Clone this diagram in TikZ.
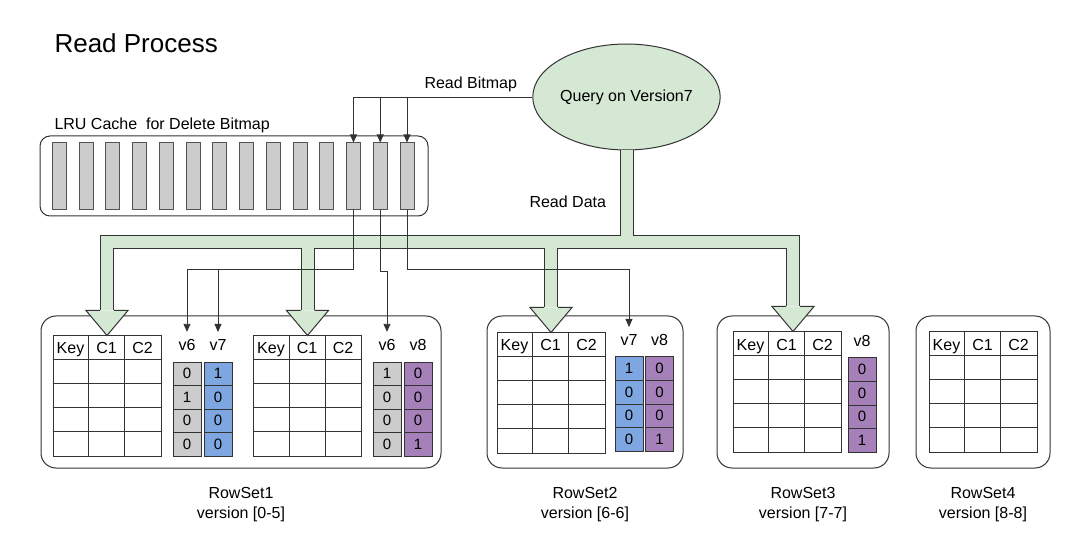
\documentclass[tikz,border=0pt]{standalone}
\usepackage{fontspec}
\setmainfont{Liberation Sans}
\usepackage{tikz}
\usetikzlibrary{arrows.meta, positioning, shapes.geometric, calc}
\usepackage{xcolor}
\definecolor{FlowGreen}{HTML}{D5E8D4}
\definecolor{BarGray}{HTML}{CCCCCC}
\definecolor{BitBlue}{HTML}{7EA6E0}
\definecolor{BitPurple}{HTML}{A680B8}
\definecolor{Ink}{HTML}{333333}

\begin{document}
\begin{tikzpicture}[>={Triangle[width=7pt,length=8pt]}, x=1pt, y=-1pt,
    font=\fontsize{16}{20}\selectfont,
    holder/.style={draw=Ink, line width=1pt, rounded corners=15pt},
    slot/.style={draw=Ink!85, fill=BarGray, line width=1pt,
                 minimum width=14pt, minimum height=67pt, inner sep=0pt},
    tablebox/.style={draw=Ink, line width=1pt, minimum width=108pt,
                     minimum height=120pt, inner sep=0pt},
    bitcell/.style={draw=Ink, line width=1pt, minimum width=28pt, minimum height=23.5pt,
                    inner sep=0pt, font=\fontsize{15}{18}\selectfont},
    link/.style={draw=Ink, line width=0.9pt, ->},
    flow/.style={draw=Ink, line width=1pt, double=FlowGreen, double distance=12pt},
    flowhead/.style={draw=Ink, fill=FlowGreen, line width=1pt, line join=miter}]
  \useasboundingbox (0,0) rectangle (1080,548);

  \node[anchor=base west, font=\fontsize{26}{30}\selectfont] (title) at (51,53) {Read Process};

  \foreach \r/\x/\w in {1/241/400pt, 2/585/196pt, 3/803/172pt, 4/983/134pt}
    \node[holder, minimum width=\w, minimum height=152pt] (rs\r) at (\x,392) {};
  \foreach \r/\v in {1/{0-5}, 2/{6-6}, 3/{7-7}, 4/{8-8}}
    \node[below=19pt of rs\r, align=center, inner sep=0pt] (rslabel\r) {RowSet\r\\version [\v]};

  \foreach \t/\x/\y in {A/107/396, B/307.5/396, C/551/393, D/787/392, E/983/392}{
    \node[tablebox] (tab\t) at (\x,\y) {};
    \foreach \k in {1,...,4}
      \draw[Ink, line width=1pt] ($(tab\t.north west)+(0,24*\k)$) -- ($(tab\t.north east)+(0,24*\k)$);
    \foreach \k in {1,2}
      \draw[Ink, line width=1pt] ($(tab\t.north west)+(36*\k,0)$) -- ($(tab\t.south west)+(36*\k,0)$);
    \node[anchor=base] (key\t) at ($(tab\t.north west)+(18,18.5)$) {Key};
    \node[anchor=base] (cone\t) at ($(tab\t.north west)+(54,18.5)$) {C1};
    \node[anchor=base] (ctwo\t) at ($(tab\t.north west)+(90,18.5)$) {C2};
  }

  \foreach \c/\x/\y/\lbl/\fillc/\bits in {
      A6/187/362/v6/BarGray/{0,1,0,0}, A7/218/362/v7/BitBlue/{1,0,0,0},
      B6/387/362/v6/BarGray/{1,0,0,0}, B8/418/362/v8/BitPurple/{0,0,0,1},
      C7/629/357/v7/BitBlue/{1,0,0,0}, C8/659.5/357/v8/BitPurple/{0,0,0,1},
      D8/862/358/v8/BitPurple/{0,0,0,1}}{
    \node (lbl\c) at (\x,\y-17) {\lbl};
    \foreach \b [count=\k] in \bits
      \node[bitcell, fill=\fillc] (bit\c\k) at (\x,{\y+11.75+23.5*(\k-1)}) {\b};
  }

  \node[anchor=base west] (lrulabel) at (51,130) {LRU Cache~ for Delete Bitmap};
  \node[holder, rounded corners=10pt, minimum width=388pt, minimum height=80pt] (lru) at (234,176) {};
  \foreach \i in {1,...,14}
    \node[slot] (bar\i) at ({59.25+(\i-1)*26.75},176.5) {};

  \node[ellipse, draw=Ink, fill=FlowGreen, line width=1pt, minimum width=161pt,
        minimum height=106pt, inner sep=0pt] (query) at (626.5,97) {Query on Version7};
  \node[anchor=base west] (readbm) at (421,89) {Read Bitmap};
  \node[anchor=base west] (readdata) at (526,208) {Read Data};

  \coordinate (bus) at ($(query.south)+(0,92)$);
  \coordinate (tipA) at (tabA.north);
  \coordinate (tipB) at (tabB.north);
  \coordinate (tipC) at (tabC.north);
  \coordinate (tipD) at ([xshift=6pt]tabD.north);
  \foreach \t in {A,B,C,D}
    \coordinate (base\t) at ($(tip\t)+(0,-25)$);
  \draw[flow] (query.south) -- (bus) -| (baseA)
    (baseB |- bus) -- (baseB)
    (baseC |- bus) -- (baseC)
    (bus) -| (baseD);
  \foreach \t in {A,B,C,D}
    \filldraw[flowhead] ($(base\t)+(-7,0)$) -- ($(base\t)+(-21,0)$) -- (tip\t)
      -- ($(base\t)+(21,0)$) -- ($(base\t)+(7,0)$);

  \coordinate (tapLow) at (0,269);
  \coordinate (tapMid) at (0,271);
  \draw[link] (query.west) -| (bar12.north);
  \draw[link] (bar13 |- query.west) -- (bar13.north);
  \draw[link] (bar14 |- query.west) -- (bar14.north);
  \draw[link, shorten >=4pt] (bar12.south) -- (bar12.south |- tapLow) -| (lblA6.north);
  \draw[link, shorten >=4pt] (lblA7 |- tapLow) -- (lblA7.north);
  \draw[link, shorten >=4pt] (bar13.south) -- (bar13.south |- tapMid) -| (lblB6.north);
  \draw[link, shorten >=4pt] (bar14.south) -- (bar14.south |- tapLow) -| (lblC7.north);
\end{tikzpicture}
\end{document}
